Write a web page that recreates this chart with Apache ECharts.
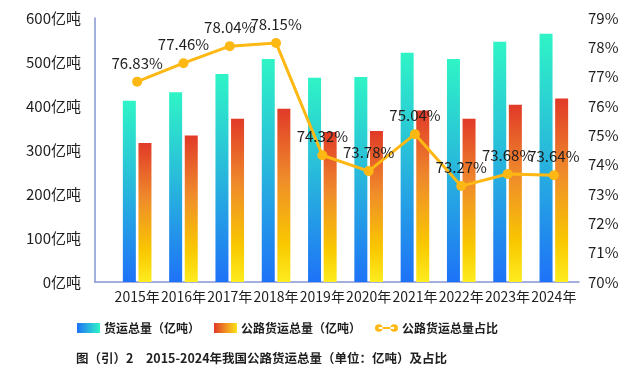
<!DOCTYPE html>
<html>
<head>
	<meta charset="utf-8">
	<title>公路货运总量及占比</title>
	<script src="https://cdn.jsdelivr.net/npm/echarts@6/dist/echarts.min.js"></script>
	<style>
		html,body{margin:0;padding:0;background:#fff;}
		#chart{width:639px;height:375px;}
	</style>
</head>
<body>
<div id="chart"></div>
<script>
// 数据
var years = ['2015年','2016年','2017年','2018年','2019年','2020年','2021年','2022年','2023年','2024年'];
var totalFreight = [412, 431, 473, 507, 464, 466, 521, 507, 546, 564];   // 货运总量（亿吨）
var roadFreight = [316, 333, 371, 394, 341, 343, 390, 371, 403, 417];    // 公路货运总量（亿吨）
var roadShare = [76.83, 77.46, 78.04, 78.15, 74.32, 73.78, 75.04, 73.27, 73.68, 73.64]; // 占比 %
var leftTicks = {min: 0, max: 600, interval: 100};
var rightTicks = {min: 70, max: 79, interval: 1};

var font = 'Noto Sans CJK SC';
var txt = '#1f1f1f';
var axisColor = '#8496d0';

var blueGrad = new echarts.graphic.LinearGradient(0, 0, 0, 1, [
	{offset: 0, color: '#2ff4c6'},
	{offset: 0.45, color: '#29bcda'},
	{offset: 1, color: '#1e72f7'}
]);
var redGrad = new echarts.graphic.LinearGradient(0, 0, 0, 1, [
	{offset: 0, color: '#e13a28'},
	{offset: 0.4, color: '#ef8b2b'},
	{offset: 0.78, color: '#f9c800'},
	{offset: 1, color: '#fdec1f'}
]);
// 图例用横向渐变
var blueLegend = new echarts.graphic.LinearGradient(0, 0, 1, 0, [
	{offset: 0, color: '#1e72f7'},
	{offset: 1, color: '#2ff4c6'}
]);
var redLegend = new echarts.graphic.LinearGradient(0, 0, 1, 0, [
	{offset: 0, color: '#e13a28'},
	{offset: 1, color: '#fde21a'}
]);

var chart = echarts.init(document.getElementById('chart'));
var option = {
	animation: false,
	textStyle: {fontFamily: font},
	title: {
		text: '图（引）2\u30002015-2024年我国公路货运总量（单位：亿吨）及占比',
		left: 76,
		top: 352,
		padding: 0,
		textStyle: {fontSize: 12.5, fontWeight: 'bold', color: txt, fontFamily: font}
	},
	legend: {
		left: 72,
		top: 317,
		itemWidth: 23,
		itemHeight: 10,
		itemGap: 14,
		textStyle: {fontSize: 12, fontWeight: 'bold', color: txt, fontFamily: font, padding: [0, 0, 0, -1]},
		data: [
			{name: '货运总量（亿吨）', icon: 'rect', itemStyle: {color: blueLegend}},
			{name: '公路货运总量（亿吨）', icon: 'rect', itemStyle: {color: redLegend}},
			{name: '公路货运总量占比', icon: 'path://M0,5a5,5 0 1,0 10,0a5,5 0 1,0 -10,0zM20,5a5,5 0 1,0 10,0a5,5 0 1,0 -10,0zM5,3.7h20v2.6h-20z', itemStyle: {color: '#fdb813'}}
		]
	},
	grid: [
		{left: 95, right: 60, top: 18, bottom: 93},   // 坐标轴
		{left: 114, right: 62, top: 18, bottom: 93}   // 数据
	],
	xAxis: [
		{
			type: 'category', gridIndex: 0, data: years,
			axisLine: {show: true, lineStyle: {color: axisColor, width: 1.5}},
			axisTick: {show: false}, axisLabel: {show: false}
		},
		{
			type: 'category', gridIndex: 1, data: years,
			axisLine: {show: false}, axisTick: {show: false},
			axisLabel: {interval: 0, fontSize: 14, color: txt, margin: 8, fontFamily: font}
		}
	],
	yAxis: [
		{
			type: 'value', gridIndex: 0, position: 'left',
			min: leftTicks.min, max: leftTicks.max, interval: leftTicks.interval,
			axisLine: {show: true, lineStyle: {color: axisColor, width: 1.5}},
			axisTick: {show: false}, splitLine: {show: false},
			axisLabel: {formatter: '{value}亿吨', fontSize: 15, color: txt, margin: 14, fontFamily: font}
		},
		{
			type: 'value', gridIndex: 0, position: 'right',
			min: rightTicks.min, max: rightTicks.max, interval: rightTicks.interval,
			axisLine: {show: false}, axisTick: {show: false}, splitLine: {show: false},
			axisLabel: {formatter: '{value}%', fontSize: 15, color: txt, margin: 9, fontFamily: font}
		},
		{
			type: 'value', gridIndex: 1, show: false,
			min: leftTicks.min, max: leftTicks.max, interval: leftTicks.interval,
			splitLine: {show: false}
		},
		{
			type: 'value', gridIndex: 1, show: false,
			min: rightTicks.min, max: rightTicks.max, interval: rightTicks.interval,
			splitLine: {show: false}
		}
	],
	series: [
		{
			name: '货运总量（亿吨）', type: 'bar', xAxisIndex: 1, yAxisIndex: 2,
			barWidth: 13, barGap: '20%',
			itemStyle: {color: blueGrad},
			data: totalFreight
		},
		{
			name: '公路货运总量（亿吨）', type: 'bar', xAxisIndex: 1, yAxisIndex: 2,
			barWidth: 13, barGap: '20%',
			itemStyle: {color: redGrad},
			data: roadFreight
		},
		{
			name: '公路货运总量占比', type: 'line', xAxisIndex: 1, yAxisIndex: 3,
			symbol: 'circle', symbolSize: 10,
			lineStyle: {color: '#fdb813', width: 3},
			itemStyle: {color: '#fdb813'},
			label: {
				show: true, position: 'top', distance: 6,
				formatter: function (p) { return p.value.toFixed(2) + '%'; },
				fontSize: 15, color: txt, fontFamily: font
			},
			data: roadShare
		}
	]
};
chart.setOption(option);
</script>
</body>
</html>
